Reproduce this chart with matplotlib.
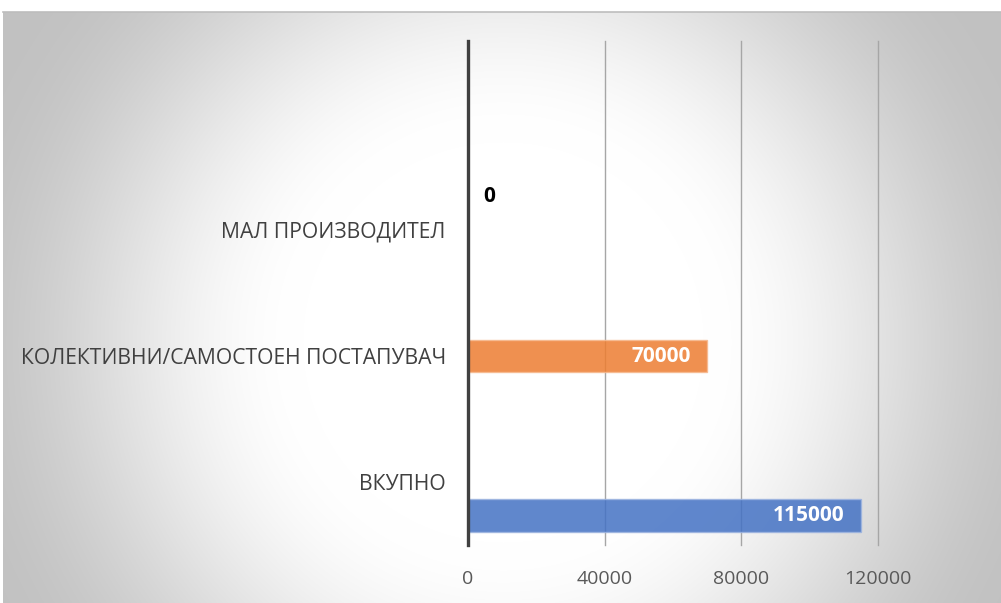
import numpy as np
import matplotlib
matplotlib.use("Agg")
import matplotlib.pyplot as plt

plt.rcParams['font.family'] = ['Open Sans', 'DejaVu Sans']

# data
kategorii = ['ВКУПНО', 'КОЛЕКТИВНИ/САМОСТОЕН ПОСТАПУВАЧ', 'МАЛ ПРОИЗВОДИТЕЛ', '']
vkupno = [115000, np.nan, np.nan, np.nan]
kolektivni = [np.nan, 70000, np.nan, np.nan]
mal = [np.nan, np.nan, 0, np.nan]
xticks = [0, 40000, 80000, 120000]

W, H = 1001, 603
fig = plt.figure(figsize=(W / 100, H / 100), dpi=100)

# radial gradient background (chart area)
bg = fig.add_axes([3 / W, 0, 998 / W, 591 / H])
yy, xx = np.mgrid[0:591, 0:998]
d = np.sqrt((xx - 500.0) ** 2 + (yy - 330.0) ** 2)
t = np.clip((d - 200) / 370, 0, 1)
t = t * t * (3 - 2 * t)
g = 1 - 0.24 * t
bg.imshow(np.dstack([g, g, g]), aspect='auto', interpolation='bilinear')
bg.set_axis_off()
fig.add_artist(plt.Line2D([3 / W, 1], [591 / H, 591 / H], color='#BDBDBD', lw=1.2))

ax = fig.add_axes([468 / W, 1 - 545 / H, (878 - 468) / W, (545 - 41) / H])
ax.patch.set_alpha(0)

y = np.arange(len(kategorii))
h = 0.26
off = 0.265
ax.barh(y - off, vkupno, height=h, color='#4472C4', alpha=0.85, edgecolor='#9DB4E0', lw=1)
ax.barh(y, kolektivni, height=h, color='#ED7D31', alpha=0.85, edgecolor='#F6B98F', lw=1)
ax.barh(y + off, mal, height=h, color='#A5A5A5', alpha=0.85)

for i, v in enumerate(vkupno):
    if not np.isnan(v):
        ax.annotate(f'{v:.0f}', (v, y[i] - off), xytext=(-12, 0), textcoords='offset points',
                    ha='right', va='center', color='white', fontweight='bold', fontsize=15)
for i, v in enumerate(kolektivni):
    if not np.isnan(v):
        ax.annotate(f'{v:.0f}', (v, y[i]), xytext=(-12, 0), textcoords='offset points',
                    ha='right', va='center', color='white', fontweight='bold', fontsize=15)
for i, v in enumerate(mal):
    if not np.isnan(v):
        ax.annotate(f'{v:.0f}', (v, y[i] + off), xytext=(11, 0), textcoords='offset points',
                    ha='left', va='center', color='black', fontweight='bold', fontsize=15)

ax.set_xlim(0, 120000)
ax.set_ylim(-0.5, 3.5)
ax.set_xticks(xticks)
ax.set_xticklabels([str(x) for x in xticks])
ax.set_yticks(y)
ax.set_yticklabels(kategorii)
ax.tick_params(axis='x', length=0, pad=18, labelsize=14, labelcolor='#595959')
ax.tick_params(axis='y', length=0, pad=16, labelsize=15.2, labelcolor='#404040')
ax.xaxis.grid(True, color='#A6A6A6', lw=1)
for ln in ax.get_xgridlines():
    ln.set_clip_on(False)
ax.set_axisbelow(True)
for s in ['top', 'right', 'bottom']:
    ax.spines[s].set_visible(False)
ax.spines['left'].set_color('#404040')
ax.spines['left'].set_linewidth(2.4)
ax.spines['left'].set_zorder(5)

fig.savefig('out.png', dpi=100)
